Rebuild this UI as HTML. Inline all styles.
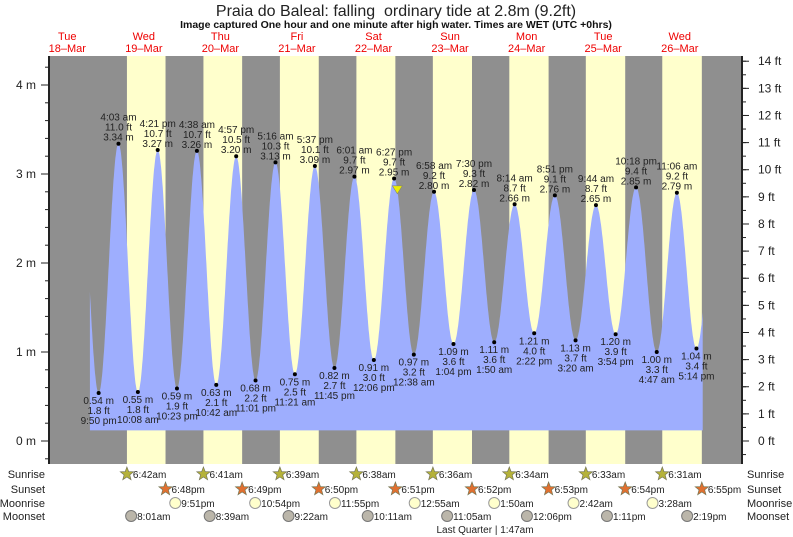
<!DOCTYPE html>
<html><head><meta charset="utf-8"><style>
body{margin:0;background:#fff}
svg{display:block;font-family:"Liberation Sans",sans-serif}
</style></head><body>
<svg id="c" width="793" height="537" viewBox="0 0 793 537" xmlns="http://www.w3.org/2000/svg">
<text x="396" y="16" text-anchor="middle" font-size="16" fill="#222">Praia do Baleal: falling&#160; ordinary tide at 2.8m (9.2ft)</text>
<text x="396" y="28" text-anchor="middle" font-size="10.5" font-weight="bold" fill="#111">Image captured One hour and one minute after high water. Times are WET (UTC +0hrs)</text>
<g id="g"></g>
</svg>
<script>
// data (times: hours since 18-Mar 00:00)
const dayNames=["Tue","Wed","Thu","Fri","Sat","Sun","Mon","Tue","Wed"];
const dayDates=["18–Mar","19–Mar","20–Mar","21–Mar","22–Mar","23–Mar","24–Mar","25–Mar","26–Mar"];
const tideTimes=["18 9:50 pm","19 4:03 am","19 10:08 am","19 4:21 pm","19 10:23 pm","20 4:38 am","20 10:42 am","20 4:57 pm","20 11:01 pm","21 5:16 am","21 11:21 am","21 5:37 pm","21 11:45 pm","22 6:01 am","22 12:06 pm","22 6:27 pm","23 12:38 am","23 6:58 am","23 1:04 pm","23 7:30 pm","24 1:50 am","24 8:14 am","24 2:22 pm","24 8:51 pm","25 3:20 am","25 9:44 am","25 3:54 pm","25 10:18 pm","26 4:47 am","26 11:06 am","26 5:14 pm"];
const tideHeights=[0.54,3.34,0.55,3.27,0.59,3.26,0.63,3.20,0.68,3.13,0.75,3.09,0.82,2.97,0.91,2.95,0.97,2.80,1.09,2.82,1.11,2.66,1.21,2.76,1.13,2.65,1.20,2.85,1.00,2.79,1.04];
const sunrise=["19 6:42 am","20 6:41 am","21 6:39 am","22 6:38 am","23 6:36 am","24 6:34 am","25 6:33 am","26 6:31 am"];
const sunset=["19 6:48 pm","20 6:49 pm","21 6:50 pm","22 6:51 pm","23 6:52 pm","24 6:53 pm","25 6:54 pm","26 6:55 pm"];
const moonrise=["19 9:51 pm","20 10:54 pm","21 11:55 pm","23 12:55 am","24 1:50 am","25 2:42 am","26 3:28 am"];
const moonset=["19 8:01 am","20 8:39 am","21 9:22 am","22 10:11 am","23 11:05 am","24 12:06 pm","25 1:11 pm","26 2:19 pm"];
const mTicks=[0,1,2,3,4];
const ftTicks=[0,1,2,3,4,5,6,7,8,9,10,11,12,13,14];
const nowTime="22 7:28 pm", nowHeight=2.8;

const NS="http://www.w3.org/2000/svg", G=document.getElementById('g');
const L=50,R=742,T=56,B=464;
const X=t=>29+t*3.19;
const Y=m=>441-m*89;
function pt(s){const [d,hm,ap]=s.split(' ');let [h,mi]=hm.split(':').map(Number);if(ap==='pm'&&h!==12)h+=12;if(ap==='am'&&h===12)h=0;return (Number(d)-18)*24+h+mi/60;}
function ap(s){return s.split(' ').slice(1).join(' ');}
function mk(tag,at,p){const e=document.createElementNS(NS,tag);for(const k in at)e.setAttribute(k,at[k]);(p||G).appendChild(e);return e;}
function tx(x,y,s,o){const e=mk('text',Object.assign({x:x,y:y,'font-size':10,fill:'#222'},o||{}));e.textContent=s;return e;}

let bg=mk('rect',{x:L,y:T,width:R-L,height:B-T,fill:'#8f8f8f'});


for(let i=0;i<sunrise.length;i++){const a=X(pt(sunrise[i])),b=X(pt(sunset[i]));
 const r=mk('rect',{x:a,y:T,width:b-a,height:B-T,fill:'#ffffcc'});
 
 }
for(let i=0;i<dayNames.length;i++){const cx=X(i*24+12);
 const a=tx(cx,40,dayNames[i],{'text-anchor':'middle','font-size':11,fill:'#e00'});
 
 
 const b=tx(cx,52,dayDates[i],{'text-anchor':'middle','font-size':11,fill:'#e00'});
 
 }
const ts=tideTimes.map(pt);
function h(t){
 if(t<=ts[0]){const a=tideHeights[0],b=tideHeights[1],d=ts[1]-ts[0];const f=(ts[0]-t)/d;return a+(b-a)*(1-Math.cos(Math.PI*f))/2;}
 const n=ts.length-1;
 if(t>=ts[n]){const a=tideHeights[n],b=tideHeights[n-1],d=ts[n]-ts[n-1];const f=(t-ts[n])/d;return a+(b-a)*(1-Math.cos(Math.PI*f))/2;}
 for(let i=0;i<n;i++)if(t<=ts[i+1]){const f=(t-ts[i])/(ts[i+1]-ts[i]);return tideHeights[i]+(tideHeights[i+1]-tideHeights[i])*(1-Math.cos(Math.PI*f))/2;}
}
const t0=19.1,t1=211.2;let d=`M${X(t0)},${Y(0.12)}`;
for(let t=t0;t<=t1;t+=0.1)d+=` L${X(t).toFixed(1)},${Y(h(t)).toFixed(1)}`;
d+=` L${X(t1)},${Y(0.12)} Z`;
const cur=mk('path',{d:d,fill:'#9eaefe'});


for(let i=0;i<ts.length;i++){const x=X(ts[i]),y=Y(tideHeights[i]);
 const hi=i>0?tideHeights[i]>tideHeights[i-1]:tideHeights[i]>tideHeights[i+1];
 const c=mk('circle',{cx:x,cy:y,r:2,fill:'#000'});
 
 
 const m=tideHeights[i].toFixed(2)+' m',f=(tideHeights[i]/0.3048).toFixed(1)+' ft',tm=ap(tideTimes[i]);
 const lines=hi?[[tm,-23],[f,-13],[m,-3]]:[[m,11],[f,21],[tm,31]];
 for(const [s,o] of lines){const e=tx(x,y+o,s,{'text-anchor':'middle'});
  
  }
}
const nx=X(pt(nowTime)),ny=Y(nowHeight);
const tri=mk('path',{d:`M${nx-5},${ny-6} L${nx+5},${ny-6} L${nx},${ny+2} Z`,fill:'#ee0',stroke:'#886','stroke-width':0.6});


const la=mk('line',{x1:L-1,y1:T,x2:L-1,y2:B,stroke:'#222','stroke-width':2});


const ra=mk('line',{x1:R,y1:T,x2:R,y2:B,stroke:'#222','stroke-width':2});


for(let m=-0.2;m<=4.3;m+=0.2){const y=Y(m);if(y<T||y>B)continue;mk('line',{x1:L-5,y1:y,x2:L,y2:y,stroke:'#222'});}
for(const m of mTicks){const y=Y(m);mk('line',{x1:L-9,y1:y,x2:L,y2:y,stroke:'#222'});
 const e=tx(36,y+4,m+' m',{'text-anchor':'end','font-size':12});
 
 }
for(let f=-0.5;f<=14.5;f+=0.5){const y=Y(f*0.3048);if(y<T-1||y>B)continue;mk('line',{x1:R,y1:y,x2:R+4,y2:y,stroke:'#222'});}
for(const f of ftTicks){const y=Y(f*0.3048);mk('line',{x1:R,y1:y,x2:R+7,y2:y,stroke:'#222'});
 const e=tx(758,y+4,f+' ft',{'font-size':12});
 
 }
const rows=[["Sunrise",474],["Sunset",489],["Moonrise",503],["Moonset",516]];
for(const [n,y] of rows){
 const a=tx(45,y+4,n,{'text-anchor':'end','font-size':11});
 
 
 const b=tx(747,y+4,n,{'font-size':11});
 
 }
function star(x,y,fill){let p='';for(let k=0;k<10;k++){const r=k%2?3:7,a=-Math.PI/2+k*Math.PI/5;p+=(k?'L':'M')+(x+r*Math.cos(a)).toFixed(1)+','+(y+r*Math.sin(a)).toFixed(1);}return mk('path',{d:p+'Z',fill:fill,stroke:'#775','stroke-width':0.7});}
function lab(x,y,s){return tx(x+6,y+4,s.replace(' ',''),{'font-size':10});}
for(const s of sunrise){const x=X(pt(s));const e=star(x,474,'#b5b23a');const l=lab(x,474,ap(s));}
for(const s of sunset){const x=X(pt(s));const e=star(x,489,'#e07030');const l=lab(x,489,ap(s));}
for(const s of moonrise){const x=X(pt(s));const e=mk('circle',{cx:x,cy:503,r:5.5,fill:'#ffffcc',stroke:'#999'});const l=lab(x,503,ap(s));}
for(const s of moonset){const x=X(pt(s));const e=mk('circle',{cx:x,cy:516,r:5.5,fill:'#bbb6aa',stroke:'#777'});const l=lab(x,516,ap(s));}
const lq=tx(485,533,'Last Quarter | 1:47am',{'text-anchor':'middle','font-size':10});


</script>
</body></html>
